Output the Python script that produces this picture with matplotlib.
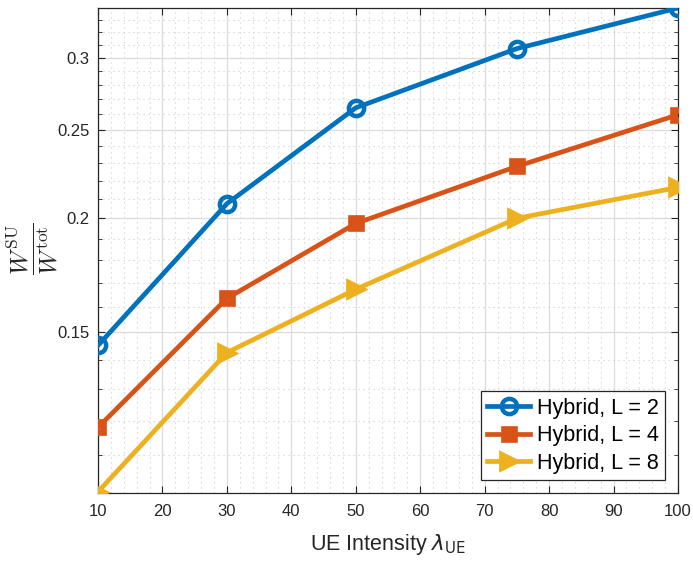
import matplotlib
matplotlib.use("Agg")
import matplotlib.pyplot as plt
import numpy as np
from matplotlib.ticker import FixedLocator, NullFormatter, FixedFormatter, MultipleLocator

x_vals = [10, 30, 50, 75, 100]
hybrid_L2 = [0.1451, 0.2075, 0.2643, 0.3069, 0.340]
hybrid_L4 = [0.1180, 0.1634, 0.1974, 0.2280, 0.2597]
hybrid_L8 = [0.1003, 0.1425, 0.1672, 0.2000, 0.2162]
labels = ["Hybrid, L = 2", "Hybrid, L = 4", "Hybrid, L = 8"]
colors = ["#0072BD", "#D95319", "#EDB120"]
yticks = [0.15, 0.2, 0.25, 0.3]
ytick_labels = ["0.15", "0.2", "0.25", "0.3"]
xticks = [10, 20, 30, 40, 50, 60, 70, 80, 90, 100]

plt.rcParams['font.family'] = ['Liberation Sans', 'DejaVu Sans']

fig = plt.figure(figsize=(6.93, 5.66), dpi=100)
ax = fig.add_axes([98/693, 73/566, 580/693, 485/566])

ax.plot(x_vals, hybrid_L2, color=colors[0], lw=3.4, marker='o', ms=11,
        mfc='none', mew=3.2, label=labels[0], zorder=5)
ax.plot(x_vals, hybrid_L4, color=colors[1], lw=3.4, marker='s', ms=7,
        mfc='none', mew=4.8, label=labels[1], zorder=5)
ax.plot(x_vals, hybrid_L8, color=colors[2], lw=3.4, marker='>', ms=13,
        mfc=colors[2], mew=2, label=labels[2], zorder=5)

ax.set_yscale('log')
ax.set_xlim(10, 100)
ax.set_ylim(0.1, 0.34)
ax.yaxis.set_major_locator(FixedLocator(yticks))
ax.yaxis.set_major_formatter(FixedFormatter(ytick_labels))
minor_y = [round(v, 2) for v in np.arange(0.10, 0.345, 0.01) if round(v, 2) not in yticks]
ax.yaxis.set_minor_locator(FixedLocator(minor_y))
ax.yaxis.set_minor_formatter(NullFormatter())
ax.set_xticks(xticks)
ax.xaxis.set_minor_locator(MultipleLocator(2))

ax.grid(which='major', color='#dcdcdc', lw=0.9, ls='-')
ax.grid(which='minor', color='#cccccc', lw=0.8, ls=(0, (1, 3.5)))
ax.set_axisbelow(True)

ax.tick_params(which='both', direction='in', top=True, right=True,
               labelsize=12, colors='#262626', labelcolor='#262626')
ax.tick_params(which='major', length=5, width=0.8)
ax.tick_params(which='minor', length=3, width=0.6)
ax.tick_params(axis='x', which='minor', length=0)
ax.tick_params(axis='x', which='major', pad=8)
ax.tick_params(axis='y', which='major', pad=6)
for s in ax.spines.values():
    s.set_color('#262626')
    s.set_linewidth(0.9)

ax.set_xlabel(r"UE Intensity $\lambda_{\mathsf{UE}}$", fontsize=15.5, color='#262626', labelpad=9)
ax.set_ylabel(r"$\dfrac{W^{\rm SU}}{W^{\rm tot}}$", fontsize=18, color='#262626',
              math_fontfamily='cm')
ax.yaxis.set_label_coords(-0.066, 0.505)

leg = ax.legend(loc='lower right', fontsize=15.5, fancybox=False, edgecolor='#262626',
                framealpha=1, borderaxespad=0.6, handlelength=2.0, handletextpad=0.3,
                borderpad=0.3, labelspacing=0.3)
leg.get_frame().set_linewidth(0.9)

fig.savefig("out.png", dpi=100)
